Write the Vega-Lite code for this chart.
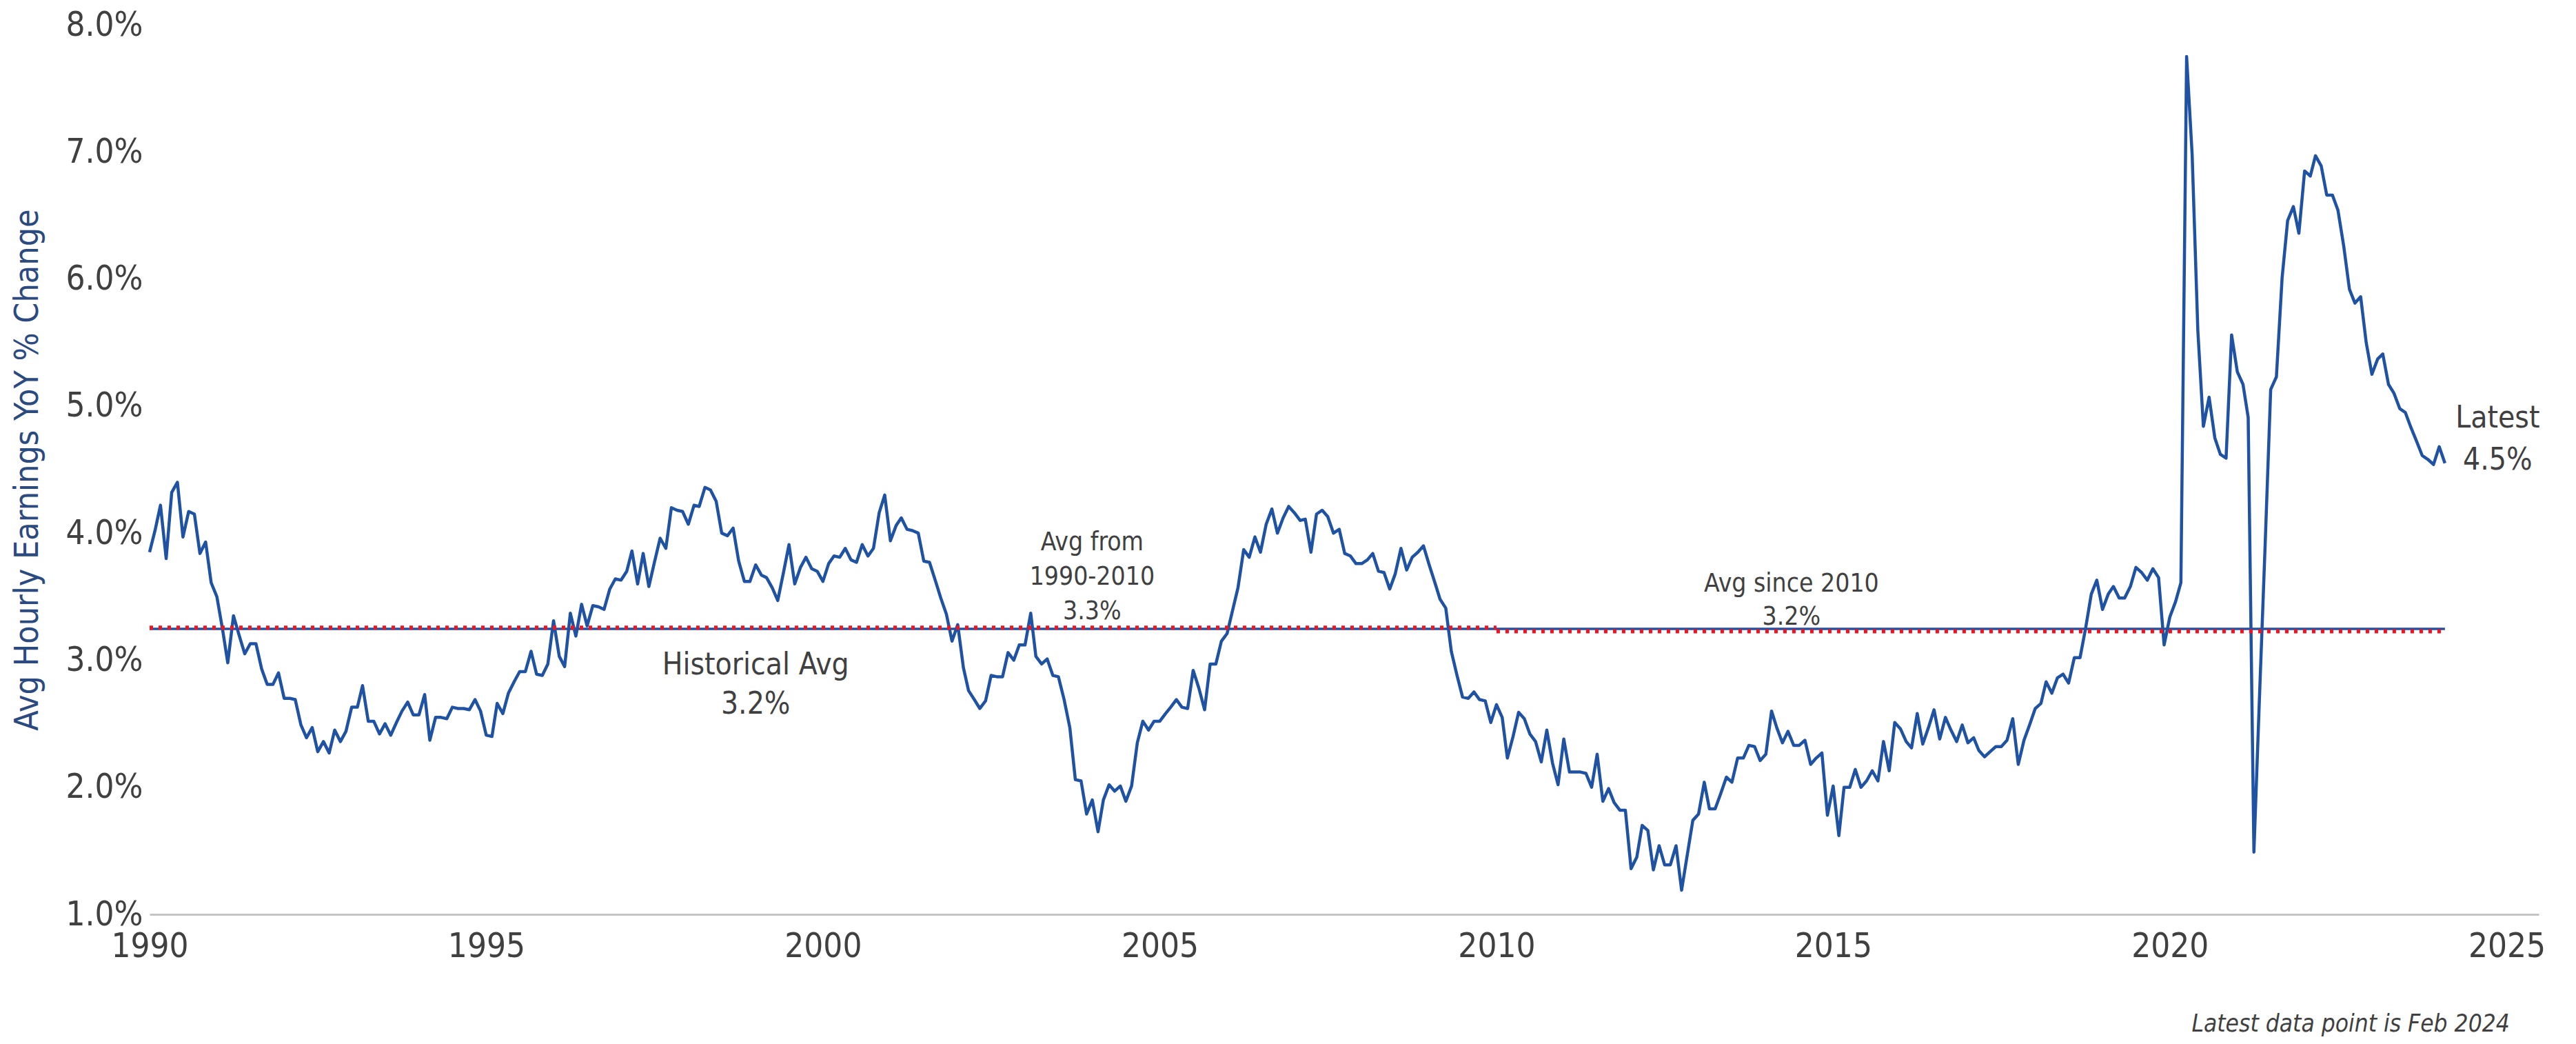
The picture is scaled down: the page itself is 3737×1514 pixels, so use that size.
{
  "$schema": "https://vega.github.io/schema/vega-lite/v6.json",
  "width": 3466,
  "height": 1290,
  "autosize": {"type": "none"},
  "padding": {"left": 217, "top": 36, "right": 54, "bottom": 188},
  "background": "white",
  "config": {
    "view": {"stroke": null},
    "font": "Liberation Sans Narrow, DejaVu Sans Condensed, Roboto Condensed, Roboto, sans-serif",
    "axis": {"grid": false, "ticks": false, "labelColor": "#404040", "labelFont": "Liberation Sans Narrow, DejaVu Sans Condensed, Roboto Condensed, Roboto, sans-serif"}
  },
  "datasets": {
    "s": [
{"d":"1990-01-01","v":3.85},{"d":"1990-02-01","v":4.03},{"d":"1990-03-01","v":4.22},{"d":"1990-04-01","v":3.80},{"d":"1990-05-01","v":4.32},{"d":"1990-06-01","v":4.40},{"d":"1990-07-01","v":3.97},{"d":"1990-08-01","v":4.17},{"d":"1990-09-01","v":4.15},{"d":"1990-10-01","v":3.84},{"d":"1990-11-01","v":3.93},{"d":"1990-12-01","v":3.61},
{"d":"1991-01-01","v":3.50},{"d":"1991-02-01","v":3.24},{"d":"1991-03-01","v":2.98},{"d":"1991-04-01","v":3.35},{"d":"1991-05-01","v":3.20},{"d":"1991-06-01","v":3.05},{"d":"1991-07-01","v":3.13},{"d":"1991-08-01","v":3.13},{"d":"1991-09-01","v":2.93},{"d":"1991-10-01","v":2.81},{"d":"1991-11-01","v":2.81},{"d":"1991-12-01","v":2.90},
{"d":"1992-01-01","v":2.70},{"d":"1992-02-01","v":2.70},{"d":"1992-03-01","v":2.69},{"d":"1992-04-01","v":2.49},{"d":"1992-05-01","v":2.39},{"d":"1992-06-01","v":2.47},{"d":"1992-07-01","v":2.28},{"d":"1992-08-01","v":2.36},{"d":"1992-09-01","v":2.27},{"d":"1992-10-01","v":2.45},{"d":"1992-11-01","v":2.36},{"d":"1992-12-01","v":2.44},
{"d":"1993-01-01","v":2.63},{"d":"1993-02-01","v":2.63},{"d":"1993-03-01","v":2.80},{"d":"1993-04-01","v":2.52},{"d":"1993-05-01","v":2.52},{"d":"1993-06-01","v":2.42},{"d":"1993-07-01","v":2.50},{"d":"1993-08-01","v":2.41},{"d":"1993-09-01","v":2.51},{"d":"1993-10-01","v":2.60},{"d":"1993-11-01","v":2.67},{"d":"1993-12-01","v":2.57},
{"d":"1994-01-01","v":2.57},{"d":"1994-02-01","v":2.73},{"d":"1994-03-01","v":2.37},{"d":"1994-04-01","v":2.55},{"d":"1994-05-01","v":2.55},{"d":"1994-06-01","v":2.54},{"d":"1994-07-01","v":2.63},{"d":"1994-08-01","v":2.62},{"d":"1994-09-01","v":2.62},{"d":"1994-10-01","v":2.61},{"d":"1994-11-01","v":2.69},{"d":"1994-12-01","v":2.60},
{"d":"1995-01-01","v":2.41},{"d":"1995-02-01","v":2.40},{"d":"1995-03-01","v":2.66},{"d":"1995-04-01","v":2.58},{"d":"1995-05-01","v":2.74},{"d":"1995-06-01","v":2.83},{"d":"1995-07-01","v":2.91},{"d":"1995-08-01","v":2.91},{"d":"1995-09-01","v":3.07},{"d":"1995-10-01","v":2.89},{"d":"1995-11-01","v":2.88},{"d":"1995-12-01","v":2.97},
{"d":"1996-01-01","v":3.31},{"d":"1996-02-01","v":3.03},{"d":"1996-03-01","v":2.95},{"d":"1996-04-01","v":3.37},{"d":"1996-05-01","v":3.19},{"d":"1996-06-01","v":3.44},{"d":"1996-07-01","v":3.27},{"d":"1996-08-01","v":3.43},{"d":"1996-09-01","v":3.42},{"d":"1996-10-01","v":3.40},{"d":"1996-11-01","v":3.56},{"d":"1996-12-01","v":3.64},
{"d":"1997-01-01","v":3.63},{"d":"1997-02-01","v":3.70},{"d":"1997-03-01","v":3.86},{"d":"1997-04-01","v":3.60},{"d":"1997-05-01","v":3.84},{"d":"1997-06-01","v":3.58},{"d":"1997-07-01","v":3.77},{"d":"1997-08-01","v":3.96},{"d":"1997-09-01","v":3.88},{"d":"1997-10-01","v":4.20},{"d":"1997-11-01","v":4.18},{"d":"1997-12-01","v":4.17},
{"d":"1998-01-01","v":4.07},{"d":"1998-02-01","v":4.22},{"d":"1998-03-01","v":4.21},{"d":"1998-04-01","v":4.36},{"d":"1998-05-01","v":4.34},{"d":"1998-06-01","v":4.25},{"d":"1998-07-01","v":4.00},{"d":"1998-08-01","v":3.98},{"d":"1998-09-01","v":4.04},{"d":"1998-10-01","v":3.78},{"d":"1998-11-01","v":3.62},{"d":"1998-12-01","v":3.62},
{"d":"1999-01-01","v":3.75},{"d":"1999-02-01","v":3.67},{"d":"1999-03-01","v":3.65},{"d":"1999-04-01","v":3.57},{"d":"1999-05-01","v":3.47},{"d":"1999-06-01","v":3.69},{"d":"1999-07-01","v":3.91},{"d":"1999-08-01","v":3.60},{"d":"1999-09-01","v":3.73},{"d":"1999-10-01","v":3.81},{"d":"1999-11-01","v":3.72},{"d":"1999-12-01","v":3.70},
{"d":"2000-01-01","v":3.62},{"d":"2000-02-01","v":3.76},{"d":"2000-03-01","v":3.82},{"d":"2000-04-01","v":3.81},{"d":"2000-05-01","v":3.88},{"d":"2000-06-01","v":3.79},{"d":"2000-07-01","v":3.77},{"d":"2000-08-01","v":3.91},{"d":"2000-09-01","v":3.82},{"d":"2000-10-01","v":3.88},{"d":"2000-11-01","v":4.16},{"d":"2000-12-01","v":4.30},
{"d":"2001-01-01","v":3.94},{"d":"2001-02-01","v":4.06},{"d":"2001-03-01","v":4.12},{"d":"2001-04-01","v":4.03},{"d":"2001-05-01","v":4.02},{"d":"2001-06-01","v":4.00},{"d":"2001-07-01","v":3.78},{"d":"2001-08-01","v":3.77},{"d":"2001-09-01","v":3.63},{"d":"2001-10-01","v":3.49},{"d":"2001-11-01","v":3.36},{"d":"2001-12-01","v":3.15},
{"d":"2002-01-01","v":3.28},{"d":"2002-02-01","v":2.94},{"d":"2002-03-01","v":2.76},{"d":"2002-04-01","v":2.69},{"d":"2002-05-01","v":2.62},{"d":"2002-06-01","v":2.68},{"d":"2002-07-01","v":2.88},{"d":"2002-08-01","v":2.87},{"d":"2002-09-01","v":2.87},{"d":"2002-10-01","v":3.06},{"d":"2002-11-01","v":3.00},{"d":"2002-12-01","v":3.12},
{"d":"2003-01-01","v":3.12},{"d":"2003-02-01","v":3.37},{"d":"2003-03-01","v":3.03},{"d":"2003-04-01","v":2.97},{"d":"2003-05-01","v":3.01},{"d":"2003-06-01","v":2.88},{"d":"2003-07-01","v":2.87},{"d":"2003-08-01","v":2.69},{"d":"2003-09-01","v":2.47},{"d":"2003-10-01","v":2.06},{"d":"2003-11-01","v":2.05},{"d":"2003-12-01","v":1.79},
{"d":"2004-01-01","v":1.90},{"d":"2004-02-01","v":1.65},{"d":"2004-03-01","v":1.90},{"d":"2004-04-01","v":2.02},{"d":"2004-05-01","v":1.97},{"d":"2004-06-01","v":2.01},{"d":"2004-07-01","v":1.89},{"d":"2004-08-01","v":2.01},{"d":"2004-09-01","v":2.35},{"d":"2004-10-01","v":2.52},{"d":"2004-11-01","v":2.45},{"d":"2004-12-01","v":2.52},
{"d":"2005-01-01","v":2.52},{"d":"2005-02-01","v":2.58},{"d":"2005-03-01","v":2.63},{"d":"2005-04-01","v":2.69},{"d":"2005-05-01","v":2.63},{"d":"2005-06-01","v":2.62},{"d":"2005-07-01","v":2.92},{"d":"2005-08-01","v":2.78},{"d":"2005-09-01","v":2.61},{"d":"2005-10-01","v":2.97},{"d":"2005-11-01","v":2.97},{"d":"2005-12-01","v":3.15},
{"d":"2006-01-01","v":3.21},{"d":"2006-02-01","v":3.40},{"d":"2006-03-01","v":3.57},{"d":"2006-04-01","v":3.87},{"d":"2006-05-01","v":3.81},{"d":"2006-06-01","v":3.97},{"d":"2006-07-01","v":3.85},{"d":"2006-08-01","v":4.07},{"d":"2006-09-01","v":4.19},{"d":"2006-10-01","v":4.00},{"d":"2006-11-01","v":4.12},{"d":"2006-12-01","v":4.21},
{"d":"2007-01-01","v":4.16},{"d":"2007-02-01","v":4.10},{"d":"2007-03-01","v":4.11},{"d":"2007-04-01","v":3.85},{"d":"2007-05-01","v":4.15},{"d":"2007-06-01","v":4.18},{"d":"2007-07-01","v":4.13},{"d":"2007-08-01","v":4.00},{"d":"2007-09-01","v":4.03},{"d":"2007-10-01","v":3.84},{"d":"2007-11-01","v":3.82},{"d":"2007-12-01","v":3.76},
{"d":"2008-01-01","v":3.76},{"d":"2008-02-01","v":3.79},{"d":"2008-03-01","v":3.84},{"d":"2008-04-01","v":3.70},{"d":"2008-05-01","v":3.69},{"d":"2008-06-01","v":3.56},{"d":"2008-07-01","v":3.68},{"d":"2008-08-01","v":3.88},{"d":"2008-09-01","v":3.71},{"d":"2008-10-01","v":3.81},{"d":"2008-11-01","v":3.85},{"d":"2008-12-01","v":3.90},
{"d":"2009-01-01","v":3.75},{"d":"2009-02-01","v":3.61},{"d":"2009-03-01","v":3.48},{"d":"2009-04-01","v":3.41},{"d":"2009-05-01","v":3.07},{"d":"2009-06-01","v":2.88},{"d":"2009-07-01","v":2.71},{"d":"2009-08-01","v":2.70},{"d":"2009-09-01","v":2.75},{"d":"2009-10-01","v":2.69},{"d":"2009-11-01","v":2.68},{"d":"2009-12-01","v":2.51},
{"d":"2010-01-01","v":2.65},{"d":"2010-02-01","v":2.55},{"d":"2010-03-01","v":2.23},{"d":"2010-04-01","v":2.40},{"d":"2010-05-01","v":2.59},{"d":"2010-06-01","v":2.54},{"d":"2010-07-01","v":2.42},{"d":"2010-08-01","v":2.36},{"d":"2010-09-01","v":2.20},{"d":"2010-10-01","v":2.45},{"d":"2010-11-01","v":2.19},{"d":"2010-12-01","v":2.02},
{"d":"2011-01-01","v":2.38},{"d":"2011-02-01","v":2.12},{"d":"2011-03-01","v":2.12},{"d":"2011-04-01","v":2.12},{"d":"2011-05-01","v":2.11},{"d":"2011-06-01","v":2.00},{"d":"2011-07-01","v":2.26},{"d":"2011-08-01","v":1.89},{"d":"2011-09-01","v":1.99},{"d":"2011-10-01","v":1.88},{"d":"2011-11-01","v":1.82},{"d":"2011-12-01","v":1.82},
{"d":"2012-01-01","v":1.36},{"d":"2012-02-01","v":1.45},{"d":"2012-03-01","v":1.70},{"d":"2012-04-01","v":1.66},{"d":"2012-05-01","v":1.35},{"d":"2012-06-01","v":1.54},{"d":"2012-07-01","v":1.39},{"d":"2012-08-01","v":1.39},{"d":"2012-09-01","v":1.54},{"d":"2012-10-01","v":1.19},{"d":"2012-11-01","v":1.47},{"d":"2012-12-01","v":1.74},
{"d":"2013-01-01","v":1.79},{"d":"2013-02-01","v":2.04},{"d":"2013-03-01","v":1.83},{"d":"2013-04-01","v":1.83},{"d":"2013-05-01","v":1.95},{"d":"2013-06-01","v":2.08},{"d":"2013-07-01","v":2.04},{"d":"2013-08-01","v":2.23},{"d":"2013-09-01","v":2.23},{"d":"2013-10-01","v":2.33},{"d":"2013-11-01","v":2.32},{"d":"2013-12-01","v":2.21},
{"d":"2014-01-01","v":2.26},{"d":"2014-02-01","v":2.60},{"d":"2014-03-01","v":2.47},{"d":"2014-04-01","v":2.35},{"d":"2014-05-01","v":2.44},{"d":"2014-06-01","v":2.33},{"d":"2014-07-01","v":2.33},{"d":"2014-08-01","v":2.37},{"d":"2014-09-01","v":2.18},{"d":"2014-10-01","v":2.23},{"d":"2014-11-01","v":2.27},{"d":"2014-12-01","v":1.78},
{"d":"2015-01-01","v":2.01},{"d":"2015-02-01","v":1.62},{"d":"2015-03-01","v":2.00},{"d":"2015-04-01","v":2.00},{"d":"2015-05-01","v":2.14},{"d":"2015-06-01","v":2.00},{"d":"2015-07-01","v":2.05},{"d":"2015-08-01","v":2.13},{"d":"2015-09-01","v":2.05},{"d":"2015-10-01","v":2.36},{"d":"2015-11-01","v":2.13},{"d":"2015-12-01","v":2.51},
{"d":"2016-01-01","v":2.46},{"d":"2016-02-01","v":2.36},{"d":"2016-03-01","v":2.31},{"d":"2016-04-01","v":2.58},{"d":"2016-05-01","v":2.34},{"d":"2016-06-01","v":2.47},{"d":"2016-07-01","v":2.61},{"d":"2016-08-01","v":2.38},{"d":"2016-09-01","v":2.55},{"d":"2016-10-01","v":2.45},{"d":"2016-11-01","v":2.36},{"d":"2016-12-01","v":2.49},
{"d":"2017-01-01","v":2.35},{"d":"2017-02-01","v":2.39},{"d":"2017-03-01","v":2.29},{"d":"2017-04-01","v":2.24},{"d":"2017-05-01","v":2.28},{"d":"2017-06-01","v":2.32},{"d":"2017-07-01","v":2.32},{"d":"2017-08-01","v":2.37},{"d":"2017-09-01","v":2.54},{"d":"2017-10-01","v":2.18},{"d":"2017-11-01","v":2.37},{"d":"2017-12-01","v":2.49},
{"d":"2018-01-01","v":2.62},{"d":"2018-02-01","v":2.66},{"d":"2018-03-01","v":2.83},{"d":"2018-04-01","v":2.74},{"d":"2018-05-01","v":2.86},{"d":"2018-06-01","v":2.89},{"d":"2018-07-01","v":2.82},{"d":"2018-08-01","v":3.02},{"d":"2018-09-01","v":3.02},{"d":"2018-10-01","v":3.25},{"d":"2018-11-01","v":3.52},{"d":"2018-12-01","v":3.63},
{"d":"2019-01-01","v":3.40},{"d":"2019-02-01","v":3.52},{"d":"2019-03-01","v":3.58},{"d":"2019-04-01","v":3.49},{"d":"2019-05-01","v":3.49},{"d":"2019-06-01","v":3.58},{"d":"2019-07-01","v":3.73},{"d":"2019-08-01","v":3.69},{"d":"2019-09-01","v":3.63},{"d":"2019-10-01","v":3.72},{"d":"2019-11-01","v":3.65},{"d":"2019-12-01","v":3.12},
{"d":"2020-01-01","v":3.34},{"d":"2020-02-01","v":3.46},{"d":"2020-03-01","v":3.61},{"d":"2020-04-01","v":7.75},{"d":"2020-05-01","v":6.98},{"d":"2020-06-01","v":5.59},{"d":"2020-07-01","v":4.84},{"d":"2020-08-01","v":5.07},{"d":"2020-09-01","v":4.75},{"d":"2020-10-01","v":4.62},{"d":"2020-11-01","v":4.59},{"d":"2020-12-01","v":5.56},
{"d":"2021-01-01","v":5.27},{"d":"2021-02-01","v":5.17},{"d":"2021-03-01","v":4.91},{"d":"2021-04-01","v":1.49},{"d":"2021-05-01","v":2.70},{"d":"2021-06-01","v":3.91},{"d":"2021-07-01","v":5.13},{"d":"2021-08-01","v":5.23},{"d":"2021-09-01","v":6.01},{"d":"2021-10-01","v":6.46},{"d":"2021-11-01","v":6.57},{"d":"2021-12-01","v":6.36},
{"d":"2022-01-01","v":6.85},{"d":"2022-02-01","v":6.81},{"d":"2022-03-01","v":6.97},{"d":"2022-04-01","v":6.89},{"d":"2022-05-01","v":6.66},{"d":"2022-06-01","v":6.66},{"d":"2022-07-01","v":6.54},{"d":"2022-08-01","v":6.26},{"d":"2022-09-01","v":5.92},{"d":"2022-10-01","v":5.81},{"d":"2022-11-01","v":5.86},{"d":"2022-12-01","v":5.50},
{"d":"2023-01-01","v":5.25},{"d":"2023-02-01","v":5.37},{"d":"2023-03-01","v":5.41},{"d":"2023-04-01","v":5.17},{"d":"2023-05-01","v":5.10},{"d":"2023-06-01","v":4.98},{"d":"2023-07-01","v":4.95},{"d":"2023-08-01","v":4.83},{"d":"2023-09-01","v":4.72},{"d":"2023-10-01","v":4.61},{"d":"2023-11-01","v":4.58},{"d":"2023-12-01","v":4.54},
{"d":"2024-01-01","v":4.68},{"d":"2024-02-01","v":4.55}
    ],
    "avgAll": [{"a": "1990-01-01", "b": "2024-02-01", "v": 3.246}],
    "avgPeriods": [
      {"a": "1990-01-01", "b": "2010-01-01", "v": 3.256},
      {"a": "2010-01-01", "b": "2024-02-01", "v": 3.227}
    ],
    "labelsBig": [
      {"d": "1999-01-01", "v": 2.96, "t": "Historical Avg"},
      {"d": "1999-01-01", "v": 2.65, "t": "3.2%"},
      {"d": "2024-11-13", "v": 4.90, "t": "Latest"},
      {"d": "2024-11-13", "v": 4.57, "t": "4.5%"}
    ],
    "labelsSmall": [
      {"d": "2003-12-31", "v": 3.925, "t": "Avg from"},
      {"d": "2003-12-31", "v": 3.653, "t": "1990-2010"},
      {"d": "2003-12-31", "v": 3.382, "t": "3.3%"},
      {"d": "2014-05-20", "v": 3.60, "t": "Avg since 2010"},
      {"d": "2014-05-20", "v": 3.34, "t": "3.2%"}
    ],
    "note": [{"d": "2025-01-17", "v": 0.137, "t": "Latest data point is Feb 2024"}]
  },
  "encoding": {
    "x": {
      "field": "d", "type": "temporal",
      "scale": {"type": "utc", "domain": [{"year": 1990, "month": 1, "date": 1, "utc": true}, {"year": 2025, "month": 6, "date": 24, "utc": true}]},
      "axis": {
        "title": null, "format": "%Y",
        "values": [{"year": 1990, "utc": true}, {"year": 1995, "utc": true}, {"year": 2000, "utc": true}, {"year": 2005, "utc": true}, {"year": 2010, "utc": true}, {"year": 2015, "utc": true}, {"year": 2020, "utc": true}, {"year": 2025, "utc": true}],
        "domainColor": "#c4c4c4", "domainWidth": 3, "labelFontSize": 49, "labelPadding": 22, "labelFlush": false, "labelOverlap": false
      }
    },
    "y": {
      "field": "v", "type": "quantitative",
      "scale": {"domain": [1, 8], "nice": false, "zero": false},
      "axis": {
        "title": "Avg Hourly Earnings YoY % Change",
        "values": [1, 2, 3, 4, 5, 6, 7, 8],
        "labelExpr": "format(datum.value, '.1f') + '%'",
        "domain": false, "labelFontSize": 49, "labelPadding": 10,
        "titleColor": "#2b4a80", "titleFontSize": 48, "titleFontWeight": "normal",
        "titleX": -177, "titleY": 645, "titleAngle": 270, "titleAlign": "center", "titleBaseline": "middle"
      }
    }
  },
  "layer": [
    {
      "data": {"name": "avgAll"},
      "mark": {"type": "rule", "color": "#2450a0", "strokeWidth": 3.5},
      "encoding": {"x": {"field": "a", "type": "temporal"}, "x2": {"field": "b"}, "y": {"field": "v", "type": "quantitative"}}
    },
    {
      "data": {"name": "s"},
      "mark": {"type": "line", "color": "#1f52a3", "strokeWidth": 4.5, "strokeJoin": "round"},
      "encoding": {}
    },
    {
      "data": {"name": "avgPeriods"},
      "mark": {"type": "rule", "color": "#f01420", "strokeWidth": 6, "strokeDash": [5, 8]},
      "encoding": {"x": {"field": "a", "type": "temporal"}, "x2": {"field": "b"}, "y": {"field": "v", "type": "quantitative"}}
    },
    {
      "data": {"name": "labelsBig"},
      "mark": {"type": "text", "fontSize": 44, "color": "#404040", "align": "center", "baseline": "middle"},
      "encoding": {"text": {"field": "t"}}
    },
    {
      "data": {"name": "labelsSmall"},
      "mark": {"type": "text", "fontSize": 37, "color": "#404040", "align": "center", "baseline": "middle"},
      "encoding": {"text": {"field": "t"}}
    },
    {
      "data": {"name": "note"},
      "mark": {"type": "text", "fontSize": 35, "fontStyle": "italic", "color": "#404040", "align": "right", "baseline": "middle", "clip": false},
      "encoding": {"text": {"field": "t"}}
    }
  ]
}
